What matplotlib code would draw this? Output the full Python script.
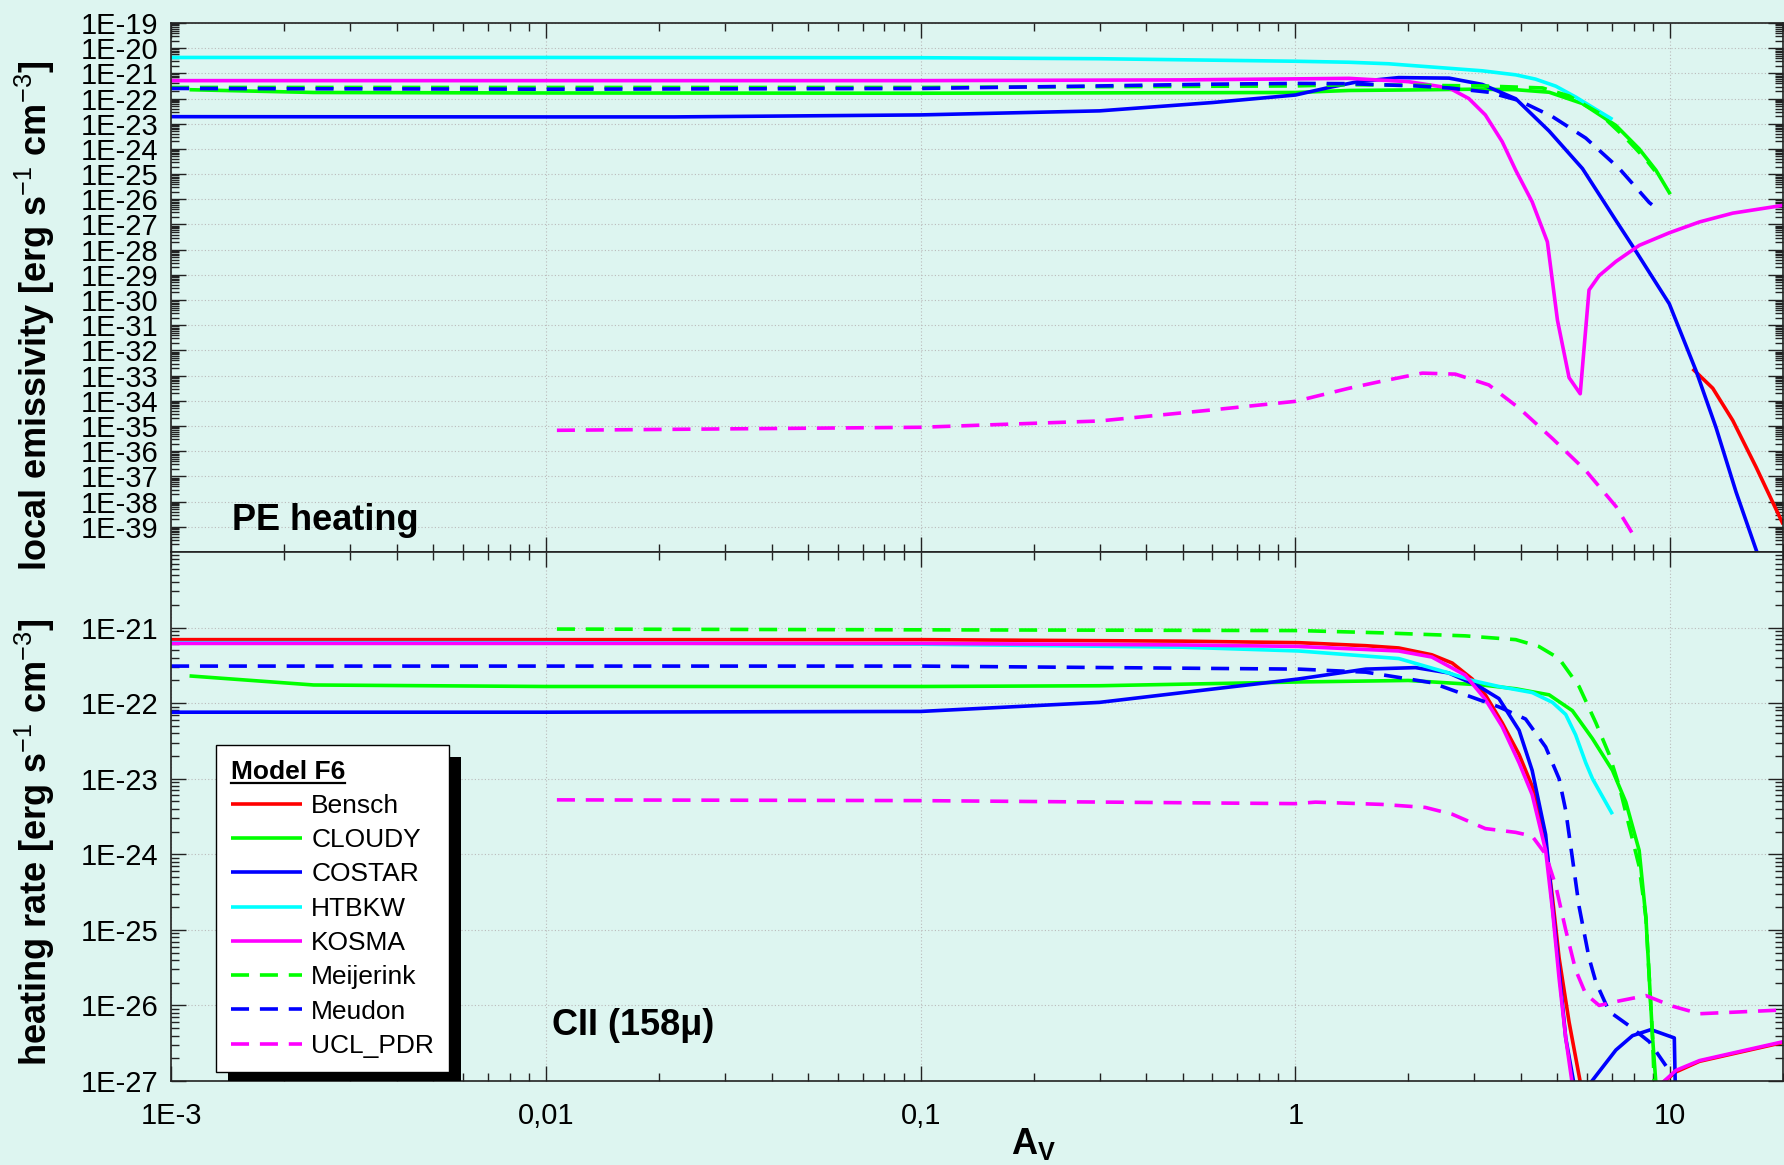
import numpy as np
import matplotlib
matplotlib.use("Agg")
import matplotlib.pyplot as plt
from matplotlib.ticker import LogLocator, FixedLocator, FixedFormatter, NullFormatter
from matplotlib.lines import Line2D
from matplotlib.patches import Rectangle

plt.rcParams['font.family'] = ['Liberation Sans', 'DejaVu Sans']
plt.rcParams['mathtext.fontset'] = 'custom'
plt.rcParams['mathtext.rm'] = 'Liberation Sans'
plt.rcParams['mathtext.bf'] = 'Liberation Sans:bold'
plt.rcParams['mathtext.it'] = 'Liberation Sans:italic'

BG = '#ddf5f0'

models = ['Bensch', 'CLOUDY', 'COSTAR', 'HTBKW', 'KOSMA', 'Meijerink', 'Meudon', 'UCL_PDR']
colors = ['#ff0000', '#00ff00', '#0000ff', '#00ffff', '#ff00ff', '#00ff00', '#0000ff', '#ff00ff']
dashed = [False, False, False, False, False, True, True, True]

# ---- PE heating: Av and log10(emissivity) ----
pe_av = {
    'Bensch': [11.47, 12.98, 14.68, 16.94, 20.0],
    'CLOUDY': [1.12e-3, 2.4e-3, 0.01, 0.1, 1.0, 1.39, 2.0, 3.0, 3.87, 4.75, 5.83, 7.16, 8.26, 9.16, 10.0],
    'COSTAR': [1e-3, 0.01, 0.022, 0.1, 0.3, 0.6, 1.0, 1.23, 1.47, 1.885, 2.57, 3.15, 3.87, 4.75, 5.83,
               7.16, 8.0, 9.94, 11.71, 13.25, 14.98, 17.3],
    'HTBKW': [1e-3, 0.01, 0.1, 0.3, 1.0, 1.39, 1.77, 2.0, 2.57, 3.15, 3.87, 4.37, 4.95, 5.59, 6.33, 7.01],
    'KOSMA': [1e-3, 0.01, 0.1, 0.5, 1.0, 1.39, 2.0, 2.57, 2.9, 3.21, 3.56, 3.87, 4.28, 4.70, 5.0, 5.37,
              5.75, 6.07, 6.46, 7.16, 8.26, 9.94, 11.96, 14.68, 20.0],
    'Meijerink': [1e-3, 0.01, 0.1, 1.0, 1.39, 3.15, 4.56, 5.37, 6.46, 7.61, 8.61, 9.1],
    'Meudon': [1e-3, 0.01, 0.1, 0.3, 0.6, 1.0, 1.39, 2.09, 2.57, 3.28, 3.95, 4.85, 5.95, 7.31, 8.79, 9.16],
    'UCL_PDR': [0.0107, 0.1, 0.3, 0.6, 1.0, 1.39, 1.7, 2.18, 2.67, 3.28, 3.95, 4.85, 5.95, 7.16, 8.1],
}
pe_log = {
    'Bensch': [-32.73, -33.5, -34.78, -36.63, -38.9],
    'CLOUDY': [-21.65, -21.76, -21.78, -21.79, -21.76, -21.68, -21.66, -21.63, -21.65, -21.75, -22.2,
               -23.07, -24.0, -24.85, -25.8],
    'COSTAR': [-22.72, -22.73, -22.73, -22.65, -22.49, -22.16, -21.86, -21.56, -21.33, -21.17, -21.19,
               -21.44, -22.01, -23.29, -24.78, -26.84, -27.94, -30.15, -32.8, -35.07, -37.62, -40.3],
    'HTBKW': [-20.37, -20.37, -20.38, -20.42, -20.52, -20.56, -20.62, -20.68, -20.8, -20.9, -21.06,
              -21.23, -21.51, -21.94, -22.43, -22.83],
    'KOSMA': [-21.29, -21.29, -21.29, -21.26, -21.22, -21.2, -21.33, -21.58, -22.0, -22.65, -23.71,
              -24.85, -26.1, -27.69, -30.8, -33.08, -33.72, -29.6, -29.03, -28.47, -27.83, -27.33,
              -26.9, -26.55, -26.24],
    'Meijerink': [-21.56, -21.56, -21.56, -21.5, -21.45, -21.5, -21.58, -21.9, -22.58, -23.57, -24.42,
                  -24.87],
    'Meudon': [-21.6, -21.63, -21.6, -21.5, -21.43, -21.4, -21.41, -21.5, -21.58, -21.75, -22.08,
               -22.72, -23.57, -24.78, -26.13, -26.34],
    'UCL_PDR': [-35.17, -35.05, -34.8, -34.36, -34.02, -33.5, -33.22, -32.9, -32.94, -33.37, -34.29,
                -35.5, -36.77, -38.19, -39.5],
}

# ---- CII (158 micron): Av and log10(rate), NaN = gap ----
cii_av = {
    'Bensch': [1e-3, 0.01, 0.1, 0.5, 1.02, 1.54, 1.885, 2.31, 2.62, 2.96, 3.21, 3.56, 3.95, 4.28, 4.65,
               4.85, 5.05, 5.37, 5.77, np.nan, 9.4, 10.35, 11.96, 14.68, 20.0],
    'CLOUDY': [1.12e-3, 2.4e-3, 0.01, 0.1, 0.3, 1.02, 2.0, 3.15, 3.87, 4.75, 5.48, 6.2, 7.01, 7.61, 8.26,
               8.61, 8.79, 8.97, 9.16],
    'COSTAR': [1e-3, 0.01, 0.1, 0.3, 1.02, 1.54, 2.09, 2.56, 3.09, 3.49, 3.95, 4.28, 4.65, 4.85, 5.05,
               5.26, 5.54, np.nan, 6.07, 7.16, 7.93, 8.88, 10.25, 10.31],
    'HTBKW': [1e-3, 0.01, 0.1, 0.5, 1.02, 1.885, 2.56, 2.96, 3.49, 4.28, 4.85, 5.26, 5.59, 5.95, 6.2, 7.01],
    'KOSMA': [1e-3, 0.01, 0.1, 0.5, 1.02, 1.885, 2.31, 2.84, 3.21, 3.56, 3.95, 4.28, 4.65, 4.85, 5.05,
              5.26, 5.48, np.nan, 9.4, 10.35, 11.96, 14.68, 20.0],
    'Meijerink': [0.0107, 0.1, 1.02, 1.70, 2.84, 3.87, 4.46, 5.05, 5.71, 6.33, 6.87, 7.31, 7.77, 8.26,
                  8.61, 8.79, 8.97, 9.06],
    'Meudon': [1e-3, 0.01, 0.1, 1.02, 1.54, 2.31, 2.84, 3.49, 4.11, 4.65, 5.05, 5.26, 5.48, 5.71, 6.07,
               6.33, 6.87, 7.77, 8.79, 9.74],
    'UCL_PDR': [0.0107, 0.1, 1.0, 1.13, 1.70, 2.22, 2.62, 3.21, 3.87, 4.28, 4.65, 4.95, 5.26, 5.59, 5.95,
                6.46, 7.31, 8.61, 10.14, 11.96, 14.68, 20.0],
}
cii_log = {
    'Bensch': [-21.16, -21.16, -21.16, -21.18, -21.2, -21.24, -21.27, -21.36, -21.47, -21.68, -21.89,
               -22.26, -22.68, -23.1, -23.84, -24.58, -25.37, -26.22, -27.05, np.nan, -27.05, -26.88,
               -26.74, -26.64, -26.49],
    'CLOUDY': [-21.64, -21.76, -21.78, -21.78, -21.77, -21.72, -21.7, -21.76, -21.81, -21.89, -22.1,
               -22.47, -22.89, -23.31, -23.95, -24.84, -25.64, -26.43, -27.05],
    'COSTAR': [-22.12, -22.12, -22.11, -21.99, -21.68, -21.55, -21.53, -21.6, -21.78, -21.94, -22.36,
               -22.89, -23.74, -24.69, -25.53, -26.43, -27.05, np.nan, -27.05, -26.59, -26.4, -26.32,
               -26.43, -27.05],
    'HTBKW': [-21.2, -21.2, -21.22, -21.26, -21.31, -21.41, -21.6, -21.7, -21.78, -21.86, -21.99, -22.15,
              -22.42, -22.79, -23.0, -23.47],
    'KOSMA': [-21.21, -21.21, -21.21, -21.23, -21.25, -21.31, -21.39, -21.63, -21.95, -22.31, -22.79,
              -23.21, -23.95, -24.74, -25.64, -26.43, -27.05, np.nan, -27.05, -26.86, -26.73, -26.63,
              -26.48],
    'Meijerink': [-21.02, -21.03, -21.04, -21.07, -21.11, -21.16, -21.25, -21.41, -21.78, -22.26, -22.68,
                  -23.1, -23.63, -24.16, -24.84, -25.64, -26.43, -27.05],
    'Meudon': [-21.51, -21.51, -21.51, -21.55, -21.59, -21.73, -21.89, -22.05, -22.21, -22.58, -23.0,
               -23.42, -24.05, -24.69, -25.37, -25.69, -26.08, -26.27, -26.48, -26.8],
    'UCL_PDR': [-23.28, -23.29, -23.33, -23.31, -23.34, -23.38, -23.47, -23.66, -23.71, -23.76, -24.0,
                -24.42, -25.0, -25.53, -25.85, -26.0, -25.94, -25.87, -26.01, -26.11, -26.09, -26.06],
}

xticks = [1e-3, 1e-2, 1e-1, 1, 10]
xticklabels = ['1E-3', '0,01', '0,1', '1', '10']
pe_yexp = list(range(-39, -18))
cii_yexp = list(range(-27, -20))

fig = plt.figure(figsize=(17.84, 11.65), dpi=100, facecolor=BG)
ax1 = fig.add_axes([0.0959, 0.5262, 0.9036, 0.4541])
ax2 = fig.add_axes([0.0959, 0.0721, 0.9036, 0.4541])


def draw(ax, avs, logs):
    for name, c, d in zip(models, colors, dashed):
        y = 10.0 ** np.array(logs[name], dtype=float)
        ax.plot(avs[name], y, color=c, lw=2.6, label=name,
                ls=(0, (5, 3)) if d else '-', solid_capstyle='butt')


draw(ax1, pe_av, pe_log)
draw(ax2, cii_av, cii_log)

for ax, yexp, ylo, yhi in [(ax1, pe_yexp, 1e-40, 1e-19), (ax2, cii_yexp, 1e-27, 1e-20)]:
    ax.set_facecolor(BG)
    ax.set_xscale('log')
    ax.set_yscale('log')
    ax.set_xlim(1e-3, 20)
    ax.set_ylim(ylo, yhi)
    ax.xaxis.set_major_locator(FixedLocator(xticks))
    ax.xaxis.set_minor_locator(LogLocator(base=10, subs=np.arange(2, 10), numticks=100))
    ax.xaxis.set_minor_formatter(NullFormatter())
    ax.yaxis.set_major_locator(FixedLocator([10.0 ** e for e in yexp]))
    ax.yaxis.set_major_formatter(FixedFormatter(['1E%d' % e for e in yexp]))
    ax.yaxis.set_minor_locator(LogLocator(base=10, subs=np.arange(2, 10), numticks=200))
    ax.yaxis.set_minor_formatter(NullFormatter())
    ax.tick_params(which='both', direction='in', top=True, right=True, width=1.0, color='#222222')
    ax.tick_params(which='major', length=11, labelsize=21, pad=9)
    ax.tick_params(which='minor', length=5.5)
    ax.grid(True, which='major', color='#bbbbbb', lw=0.8, ls=(0, (1, 2)))
    for s in ax.spines.values():
        s.set_linewidth(1.2)
        s.set_color('#222222')

ax1.tick_params(axis='x', labelbottom=False)
ax2.xaxis.set_major_formatter(FixedFormatter(xticklabels))
ax2.tick_params(axis='x', which='major', pad=15)

ax1.set_ylabel(r'local emissivity [erg s$^{-1}$ cm$^{-3}$]', fontsize=26, fontweight='bold')
ax2.set_ylabel(r'heating rate [erg s$^{-1}$ cm$^{-3}$]', fontsize=26, fontweight='bold')
ax1.yaxis.set_label_coords(-0.071, 0.446)
ax2.yaxis.set_label_coords(-0.071, 0.452)

ax1.text(0.0378, 0.0416, 'PE heating', transform=ax1.transAxes, fontsize=26,
         fontweight='bold', va='baseline', ha='left')
ax2.text(0.236, 0.087, 'CII (158\u03bc)', transform=ax2.transAxes, fontsize=26,
         fontweight='bold', va='baseline', ha='left')
fig.text(1011 / 1784, 1 - 1154 / 1165, r'A$_\mathbf{V}$', fontsize=26, fontweight='bold',
         ha='left', va='baseline')

leg = ax2.legend(loc='upper left', bbox_to_anchor=(0.028, 0.635), fontsize=19,
                 title='Model F6', title_fontproperties={'weight': 'bold', 'size': 19},
                 alignment='left', frameon=True, fancybox=False, framealpha=1,
                 edgecolor='black', facecolor='white', handlelength=2.7,
                 handletextpad=0.35, labelspacing=0.39, borderpad=0.55, borderaxespad=0)
leg.get_frame().set_linewidth(1.0)
leg.set_zorder(10)

# underline for the legend title and black drop shadow
fig.canvas.draw()
r = fig.canvas.get_renderer()
tb = leg.get_title().get_window_extent(r)
inv = fig.transFigure.inverted()
(u0, v0), (u1, _) = inv.transform([(tb.x0, tb.y0 + 1), (tb.x1, tb.y0 + 1)])
fig.add_artist(Line2D([u0, u1], [v0, v0], color='black', lw=1.6, zorder=20))
lb = leg.get_window_extent(r)
ainv = ax2.transAxes.inverted()
(a0, b0), (a1, b1) = ainv.transform([(lb.x0 + 12, lb.y0 - 12), (lb.x1 + 12, lb.y1 - 12)])
ax2.add_patch(Rectangle((a0, b0), a1 - a0, b1 - b0, transform=ax2.transAxes,
                        facecolor='black', edgecolor='none', zorder=9, clip_on=True))

fig.savefig('out.png', dpi=100, facecolor=BG)
